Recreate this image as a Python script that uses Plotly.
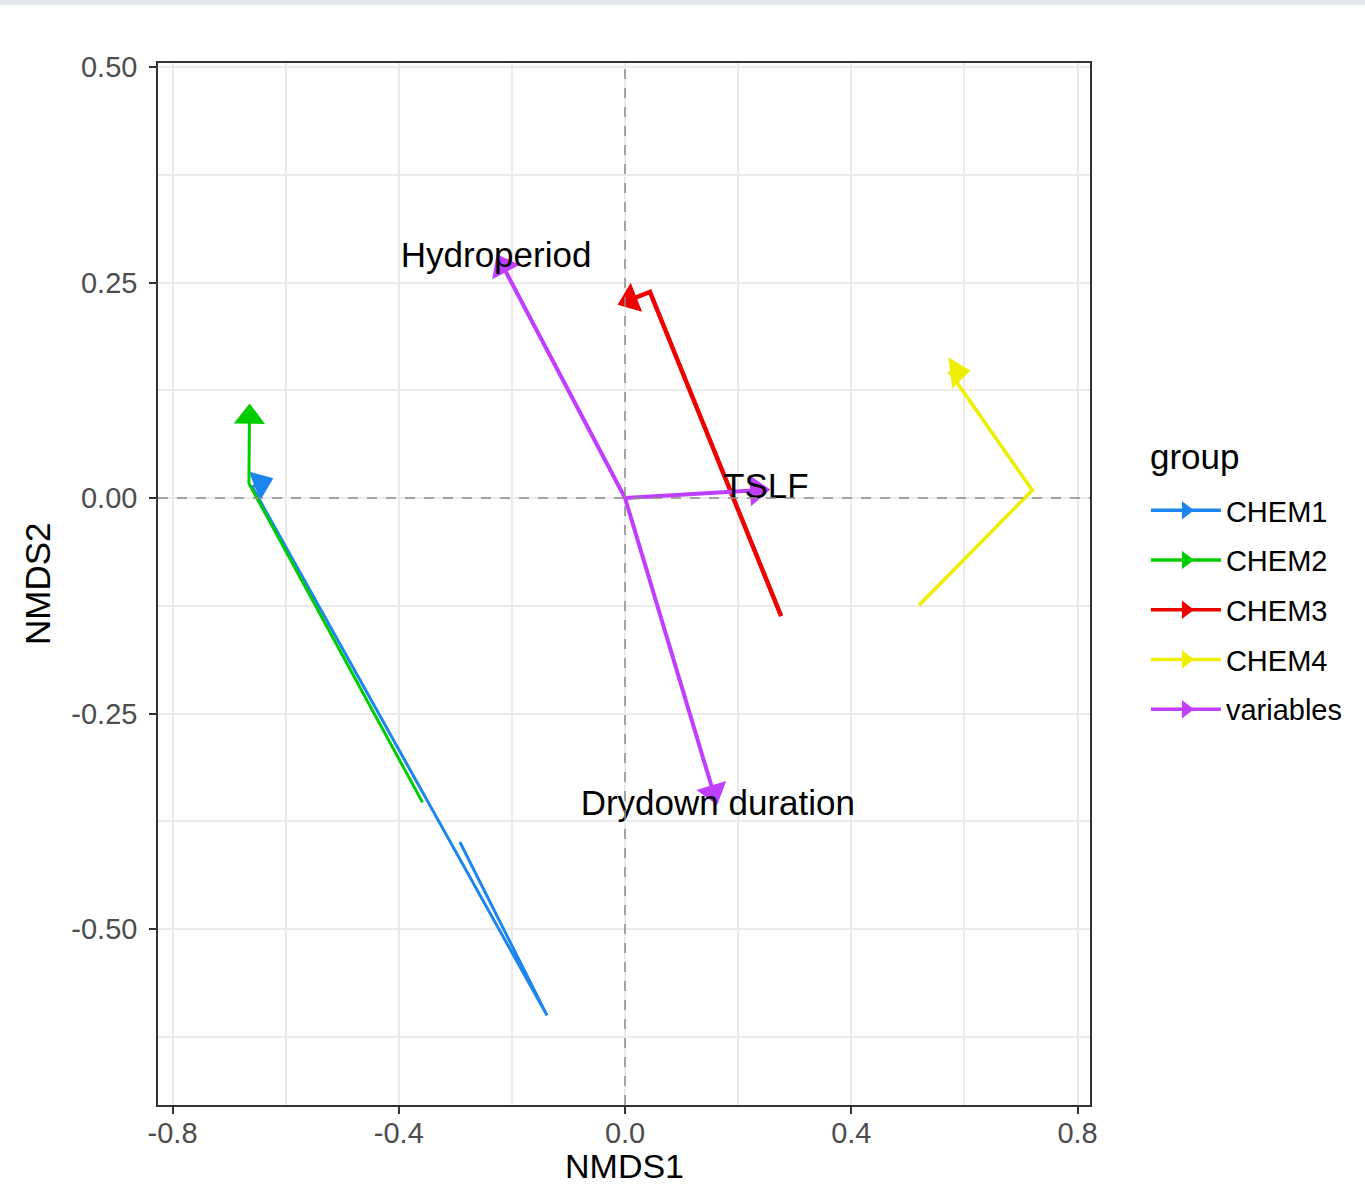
import math
import plotly.graph_objects as go

# ---------------- data ----------------
groups = ["CHEM1", "CHEM2", "CHEM3", "CHEM4", "variables"]
group_colors = ["#1C86EE", "#00CD00", "#EE0000", "#EEEE00", "#BF3EFF"]

# CHEM paths (ordered points, arrow at last point)
chem1_x = [-0.292, -0.138, -0.659, -0.644]
chem1_y = [-0.399, -0.600, 0.013, 0.017]
chem2_x = [-0.358, -0.665, -0.664]
chem2_y = [-0.353, 0.017, 0.094]
chem3_x = [0.276, 0.044, 0.009]
chem3_y = [-0.137, 0.239, 0.230]
chem4_x = [0.520, 0.720, 0.575, 0.587]
chem4_y = [-0.124, 0.009, 0.145, 0.146]

# environmental variables (arrows from origin)
var_names = ["Hydroperiod", "TSLF", "Drydown duration"]
var_x = [-0.216, 0.233, 0.156]
var_y = [0.269, 0.009, -0.341]
label_x = [-0.228, 0.249, 0.164]
label_y = [0.278, 0.010, -0.358]

x_ticks = [-0.8, -0.4, 0.0, 0.4, 0.8]
x_ticktext = ["-0.8", "-0.4", "0.0", "0.4", "0.8"]
y_ticks = [0.50, 0.25, 0.00, -0.25, -0.50]
y_ticktext = ["0.50", "0.25", "0.00", "-0.25", "-0.50"]
x_minor = [-0.6, -0.2, 0.2, 0.6]
y_minor = [0.375, 0.125, -0.125, -0.375, -0.625]

FONT = "Liberation Sans, Arial, sans-serif"
HEAD = 27

X_RANGE = [-0.8257, 0.822]
Y_RANGE = [-0.704, 0.5046]
W, H = 1365, 1186
M = dict(l=158, r=275, t=63, b=81)
px_x = (W - M["l"] - M["r"]) / (X_RANGE[1] - X_RANGE[0])
px_y = (H - M["t"] - M["b"]) / (Y_RANGE[1] - Y_RANGE[0])

fig = go.Figure()


def arrow_path(xs, ys, color, width):
    n = len(xs)
    dx = (xs[-1] - xs[-2]) * px_x
    dy = (ys[-1] - ys[-2]) * px_y
    ang = math.degrees(math.atan2(dx, dy))
    fig.add_trace(go.Scatter(
        x=xs, y=ys, mode="lines+markers",
        line=dict(color=color, width=width),
        marker=dict(symbol="triangle-up", angleref="up",
                    angle=[0] * (n - 1) + [ang],
                    size=[0] * (n - 1) + [HEAD], color=color, opacity=1,
                    line=dict(width=0)),
        showlegend=False, hoverinfo="skip"))


arrow_path(chem1_x, chem1_y, group_colors[0], 3)
arrow_path(chem2_x, chem2_y, group_colors[1], 3)
arrow_path(chem3_x, chem3_y, group_colors[2], 4.5)
arrow_path(chem4_x, chem4_y, group_colors[3], 3.5)
for vx, vy in zip(var_x, var_y):
    arrow_path([0, vx], [0, vy], group_colors[4], 4)

fig.add_trace(go.Scatter(
    x=label_x, y=label_y, mode="text", text=var_names,
    textposition="middle center",
    textfont=dict(family=FONT, size=35, color="black"),
    showlegend=False, hoverinfo="skip"))

# legend entries
for g, c in zip(groups, group_colors):
    fig.add_trace(go.Scatter(
        x=[None], y=[None], mode="lines+markers", name=g, legendgroup=g,
        line=dict(color=c, width=3.5),
        marker=dict(symbol="triangle-right", size=24, color=c),
        showlegend=True))

# dashed zero lines
fig.add_hline(y=0, line=dict(color="#8c8c8c", width=1.5, dash="10px,9px"))
fig.add_vline(x=0, line=dict(color="#8c8c8c", width=1.5, dash="10px,9px"))

# top grey band
fig.add_shape(type="rect", xref="paper", yref="paper",
              x0=-0.17, x1=1.3, y0=1.0557, y1=1.07,
              fillcolor="#e4e7eb", line=dict(width=0), layer="above")

# legend title and axis titles
fig.add_annotation(text="group", xref="paper", yref="paper",
                   x=1.0622, y=0.6219, xanchor="left", yanchor="middle",
                   showarrow=False, font=dict(family=FONT, size=35, color="black"))
fig.add_annotation(text="NMDS1", xref="paper", yref="paper",
                   x=0.5, y=-0.0585, xanchor="center", yanchor="middle",
                   showarrow=False, font=dict(family=FONT, size=34, color="black"))
fig.add_annotation(text="NMDS2", xref="paper", yref="paper", textangle=-90,
                   x=-0.1298, y=0.5, xanchor="center", yanchor="middle",
                   showarrow=False, font=dict(family=FONT, size=35, color="black"))

axis_common = dict(
    showline=True, mirror=True, linecolor="#333333", linewidth=1.5,
    ticks="outside", ticklen=7, tickwidth=1.5, tickcolor="#333333",
    showgrid=True, gridcolor="#ebebeb", gridwidth=1.5,
    zeroline=False,
    tickfont=dict(family=FONT, size=29, color="#4d4d4d"),
)

fig.update_layout(
    width=W, height=H, autosize=False,
    margin=M,
    paper_bgcolor="white", plot_bgcolor="white",
    font=dict(family=FONT, color="black"),
    xaxis=dict(range=X_RANGE, tickvals=x_ticks, ticktext=x_ticktext,
               ticklabelstandoff=-6,
               minor=dict(tickvals=x_minor, showgrid=True, gridcolor="#ebebeb", gridwidth=1.5, ticks=""),
               automargin=False, **axis_common),
    yaxis=dict(range=Y_RANGE, tickvals=y_ticks, ticktext=y_ticktext,
               ticklabelstandoff=6,
               minor=dict(tickvals=y_minor, showgrid=True, gridcolor="#ebebeb", gridwidth=1.5, ticks=""),
               automargin=False, **axis_common),
    legend=dict(x=1.06, y=0.595, xanchor="left", yanchor="top",
                font=dict(family=FONT, size=29, color="black"),
                tracegroupgap=9, itemwidth=70, bgcolor="rgba(0,0,0,0)"),
)

fig.write_html("out.html")
